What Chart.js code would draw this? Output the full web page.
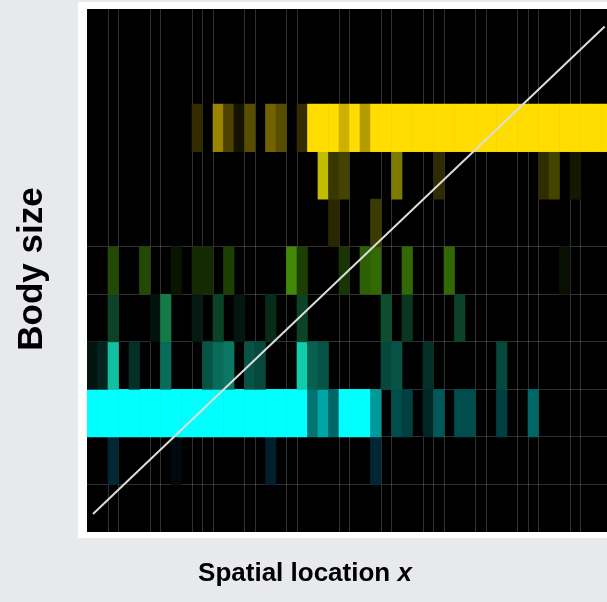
<!DOCTYPE html>
<html>
<head>
<meta charset="utf-8">
<title>Body size by spatial location</title>
<script src="https://cdn.jsdelivr.net/npm/chart.js@4.4.1/dist/chart.umd.min.js"></script>
<style>
  html, body { margin: 0; padding: 0; background: #e8e9ed; overflow: hidden; }
  #wrap { position: relative; width: 620px; height: 602px; }
</style>
</head>
<body>
<div id="wrap"><canvas id="sizeMap"></canvas></div>
<script>
// Spatial location bins along x (one category per bin)
const locations = Array.from({ length: 50 }, (_, i) => String(i + 1))

// Body-size classes, top to bottom; level = cell brightness 0..1 per location bin
const yellowTop = [0,0,0,0,0,0,0,0,0,0, 0.2,0,0.6,0.3,0.08,0.35,0,0.45,0.35,0, 0.2,1,1,1,0.8,1,0.7,1,1,1, 1,1,1,1,1,1,1,1,1,1, 1,1,1,1,1,1,1,1,1,1]
const yellowDrip = [0,0,0,0,0,0,0,0,0,0, 0,0,0,0,0,0,0,0,0,0, 0,0,0.85,0.25,0.3,0,0,0,0,0.55, 0,0,0,0.2,0,0,0,0,0,0, 0,0,0,0.2,0.3,0,0.1,0,0,0]
const olive = [0,0,0,0,0,0,0,0,0,0, 0,0,0,0,0,0,0,0,0,0, 0,0,0,0.2,0,0,0,0.3,0,0, 0,0,0,0,0,0,0,0,0,0, 0,0,0,0,0,0,0,0,0,0]
const green = [0,0,0.35,0,0,0.35,0,0,0.1,0, 0.2,0.2,0,0.3,0,0,0,0,0,0.65, 0.3,0,0,0,0.25,0,0.45,0.5,0,0, 0.5,0,0,0,0.5,0,0,0,0,0, 0,0,0,0,0,0.08,0,0,0,0]
const seaGreen = [0,0,0.3,0,0,0,0.08,0.55,0,0, 0.12,0,0.3,0,0.1,0,0,0.2,0,0, 0.3,0,0,0,0,0,0,0,0.35,0, 0.25,0,0,0,0,0.3,0,0,0,0, 0,0,0,0,0,0,0,0,0,0]
const teal = [0.08,0.15,0.8,0,0.2,0,0,0.45,0,0, 0,0.35,0.45,0.5,0,0.35,0.3,0,0,0, 0.85,0.4,0.35,0,0,0,0,0,0.3,0.35, 0,0,0.2,0,0,0,0,0,0,0.3, 0,0,0,0,0,0,0,0,0,0]
const cyan = [1,1,1,1,1,1,1,1,1,1, 1,1,1,1,1,1,1,1,1,1, 1,0.45,0.65,0.4,1,1,1,0.6,0,0.3, 0.25,0,0.15,0.35,0,0.3,0.3,0,0,0.25, 0,0,0.4,0,0,0,0,0,0,0]
const blue = [0,0,0.3,0,0,0,0,0,0.08,0, 0,0,0,0,0,0,0,0.25,0,0, 0,0,0,0,0,0,0,0.3,0,0, 0,0,0,0,0,0,0,0,0,0, 0,0,0,0,0,0,0,0,0,0]

// One-to-one reference line (start, end) in bin / class units
const diagonal = [{ x: 0.57, y: 0.38 }, { x: 49.3, y: 10.63 }]

// bin edges that show a faint separator
const binEdges = [2,3,6,7,10,11,12,15,16,19,20,24,25,28,29,32,33,34,37,38,41,42,43,46,47]

const rows = [
  { levels: yellowTop, slot: 8, rgb: [255, 221, 0] },
  { levels: yellowDrip, slot: 7, rgb: [228, 222, 0] },
  { levels: olive, slot: 6, rgb: [200, 196, 0] },
  { levels: green, slot: 5, rgb: [100, 210, 10] },
  { levels: seaGreen, slot: 4, rgb: [40, 220, 130] },
  { levels: teal, slot: 3, rgb: [20, 240, 200] },
  { levels: cyan, slot: 2, rgb: [0, 255, 255] },
  { levels: blue, slot: 1, rgb: [0, 130, 170] },
]

const shade = (rgb, v) => `rgb(${rgb.map((c) => Math.round(c * v)).join(",")})`
const sepColor = "rgba(150,150,150,0.32)"

const cellSets = rows.map((r) => ({
  type: "bar",
  order: 1,
  data: r.levels.map((v) => (v > 0 ? [r.slot, r.slot + 1] : null)),
  backgroundColor: r.levels.map((v) => shade(r.rgb, v)),
  borderWidth: 0,
}))

const framePlugin = {
  id: "frame",
  beforeDraw(chart) {
    const { ctx, chartArea: a } = chart
    ctx.save()
    ctx.fillStyle = "#ffffff"
    ctx.fillRect(a.left - 9, a.top - 7, a.right - a.left + 20, a.bottom - a.top + 13)
    ctx.fillStyle = "#000000"
    ctx.fillRect(a.left, a.top, a.right - a.left, a.bottom - a.top)
    ctx.restore()
  },
  afterDraw(chart) {
    const { ctx } = chart
    ctx.save()
    ctx.fillStyle = "#000000"
    ctx.textBaseline = "middle"

    // y title
    ctx.translate(32, 269)
    ctx.rotate(-Math.PI / 2)
    ctx.font = "bold 35px 'Liberation Sans', Arial, sans-serif"
    ctx.textAlign = "center"
    ctx.fillText("Body size", 0, 0)
    ctx.setTransform(1, 0, 0, 1, 0, 0)

    // x title, italic x
    const plain = "Spatial location "
    const boldFont = "bold 26px 'Liberation Sans', Arial, sans-serif"
    const italicFont = "italic bold 26px 'Liberation Sans', Arial, sans-serif"
    ctx.textAlign = "left"
    ctx.font = boldFont
    const w1 = ctx.measureText(plain).width
    ctx.font = italicFont
    const w2 = ctx.measureText("x").width
    const x0 = 305 - (w1 + w2) / 2
    ctx.font = boldFont
    ctx.fillText(plain, x0, 574)
    ctx.font = italicFont
    ctx.fillText("x", x0 + w1, 574)
    ctx.restore()
  },
}

new Chart(document.getElementById("sizeMap"), {
  type: "bar",
  data: {
    labels: locations,
    datasets: [
      {
        type: "line",
        order: 0,
        xAxisID: "x2",
        data: diagonal,
        borderColor: "#dcdcdc",
        borderWidth: 2,
        pointRadius: 0,
        fill: false,
      },
      ...cellSets,
    ],
  },
  options: {
    responsive: true,
    maintainAspectRatio: false,
    animation: false,
    devicePixelRatio: 1,
    layout: { padding: { left: 87, top: 9, right: 8, bottom: 70 } },
    datasets: {
      bar: { grouped: false, barPercentage: 1, categoryPercentage: 1 },
    },
    plugins: {
      legend: { display: false },
      tooltip: { enabled: false },
    },
    scales: {
      x: {
        z: 1,
        offset: true,
        ticks: { display: false, autoSkip: false },
        border: { display: false },
        grid: {
          offset: true,
          drawTicks: false,
          lineWidth: 1,
          color: (c) => (binEdges.includes(c.index) ? sepColor : "transparent"),
        },
      },
      x2: {
        type: "linear",
        display: false,
        offset: false,
        min: 0,
        max: 50,
      },
      y: {
        z: 1,
        min: 0,
        max: 11,
        ticks: { display: false, stepSize: 1 },
        border: { display: false },
        grid: {
          drawTicks: false,
          color: (c) => (c.tick && c.tick.value >= 1 && c.tick.value <= 6 ? sepColor : "transparent"),
        },
      },
    },
  },
  plugins: [framePlugin],
})
</script>
</body>
</html>
